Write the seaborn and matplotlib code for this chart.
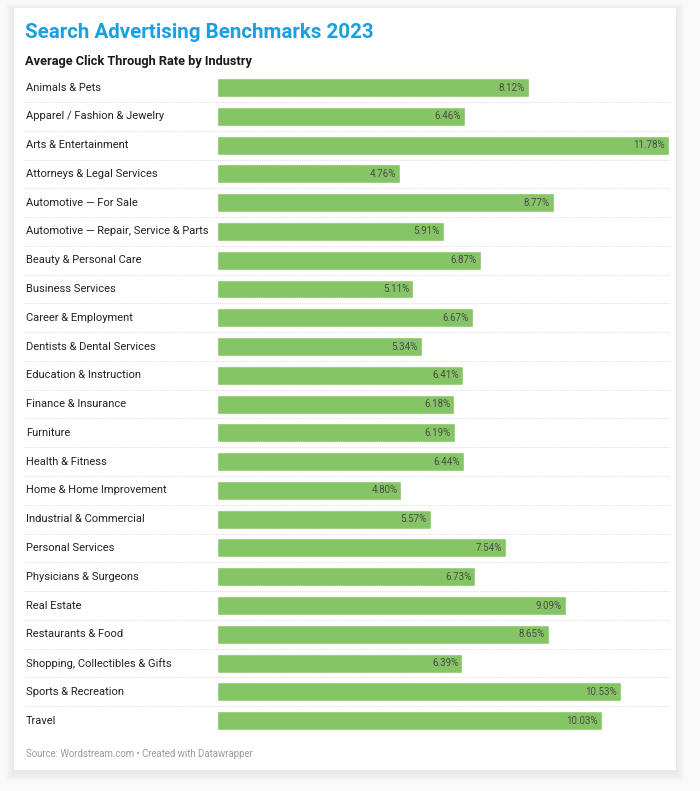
import matplotlib
matplotlib.use("Agg")
import matplotlib.pyplot as plt
import matplotlib.transforms as mtransforms
from matplotlib.patches import FancyBboxPatch
import seaborn as sns
import pandas as pd

sns.set_style("white")
plt.rcParams['font.family'] = ['Roboto', 'DejaVu Sans']

industries = [
    "Animals & Pets",
    "Apparel / Fashion & Jewelry",
    "Arts & Entertainment",
    "Attorneys & Legal Services",
    "Automotive \u2014 For Sale",
    "Automotive \u2014 Repair, Service & Parts",
    "Beauty & Personal Care",
    "Business Services",
    "Career & Employment",
    "Dentists & Dental Services",
    "Education & Instruction",
    "Finance & Insurance",
    "Furniture",
    "Health & Fitness",
    "Home & Home Improvement",
    "Industrial & Commercial",
    "Personal Services",
    "Physicians & Surgeons",
    "Real Estate",
    "Restaurants & Food",
    "Shopping, Collectibles & Gifts",
    "Sports & Recreation",
    "Travel",
]
ctr = [8.12, 6.46, 11.78, 4.76, 8.77, 5.91, 6.87, 5.11, 6.67, 5.34, 6.41, 6.18,
       6.19, 6.44, 4.80, 5.57, 7.54, 6.73, 9.09, 8.65, 6.39, 10.53, 10.03]

df = pd.DataFrame({"industry": industries, "ctr": ctr})

W, H = 700, 791
fig = plt.figure(figsize=(W / 100, H / 100), dpi=100)
fig.patch.set_facecolor("#f9f9f9")

# card with soft shadow
for k in range(8):
    d = 8 - k
    fig.patches.append(FancyBboxPatch(
        ((14 - d) / W, 1 - (770 + d + 3) / H), (662 + 2 * d) / W, (762 + 2 * d) / H,
        boxstyle="square,pad=0", transform=fig.transFigure,
        facecolor="black", edgecolor="none", alpha=0.008, zorder=-2))
fig.patches.append(FancyBboxPatch(
    (14 / W, 1 - 770 / H), 662 / W, 762 / H, boxstyle="square,pad=0",
    transform=fig.transFigure, facecolor="white", edgecolor="none", zorder=-1))

# bar axes: rows from y=73 to 735 px, bars from x=217 to 669 px
top_px, bot_px = 73.2, 735.0
ax = fig.add_axes([217 / W, 1 - bot_px / H, 452 / W, (bot_px - top_px) / H])
ax.set_zorder(1)
sns.barplot(data=df, y="industry", x="ctr", orient="h", color="#85c566",
            width=0.66, ax=ax, saturation=1, zorder=2)
ax.set_xlim(0, max(ctr))
ax.set_ylim(len(ctr) - 0.5, -0.5)
ax.axis("off")

label_tr = mtransforms.blended_transform_factory(fig.transFigure, ax.transData)
for i, (name, v) in enumerate(zip(industries, ctr)):
    ax.text(26 / W, i, name, transform=label_tr, ha="left", va="center",
            fontsize=8.0, color="#222222")
    ax.text(v - 0.1, i, f"{v:.2f}%", ha="right", va="center",
            fontsize=7, color="#4a4a4a", fontstretch="condensed",
            family=["Liberation Sans Narrow", "Roboto", "DejaVu Sans"], zorder=3)
    if i < len(ctr) - 1:
        ax.plot([24 / W, 670 / W], [i + 0.5, i + 0.5], transform=label_tr,
                color="#e0e0e0", lw=0.8, ls=(0, (1, 1)), clip_on=False, zorder=1)

fig.text(25 / W, 1 - 32 / H, "Search Advertising Benchmarks 2023", ha="left",
         va="center", fontsize=14.8, fontweight="bold", color="#1a9fe0")
fig.text(25 / W, 1 - 61 / H, "Average Click Through Rate by Industry", ha="left",
         va="center", fontsize=9.2, fontweight="bold", color="#1a1a1a")
fig.text(26 / W, 1 - 754 / H, "Source: Wordstream.com \u2022 Created with Datawrapper",
         ha="left", va="center", fontsize=6.9, color="#9a9a9a")

fig.savefig("out.png", dpi=100)
